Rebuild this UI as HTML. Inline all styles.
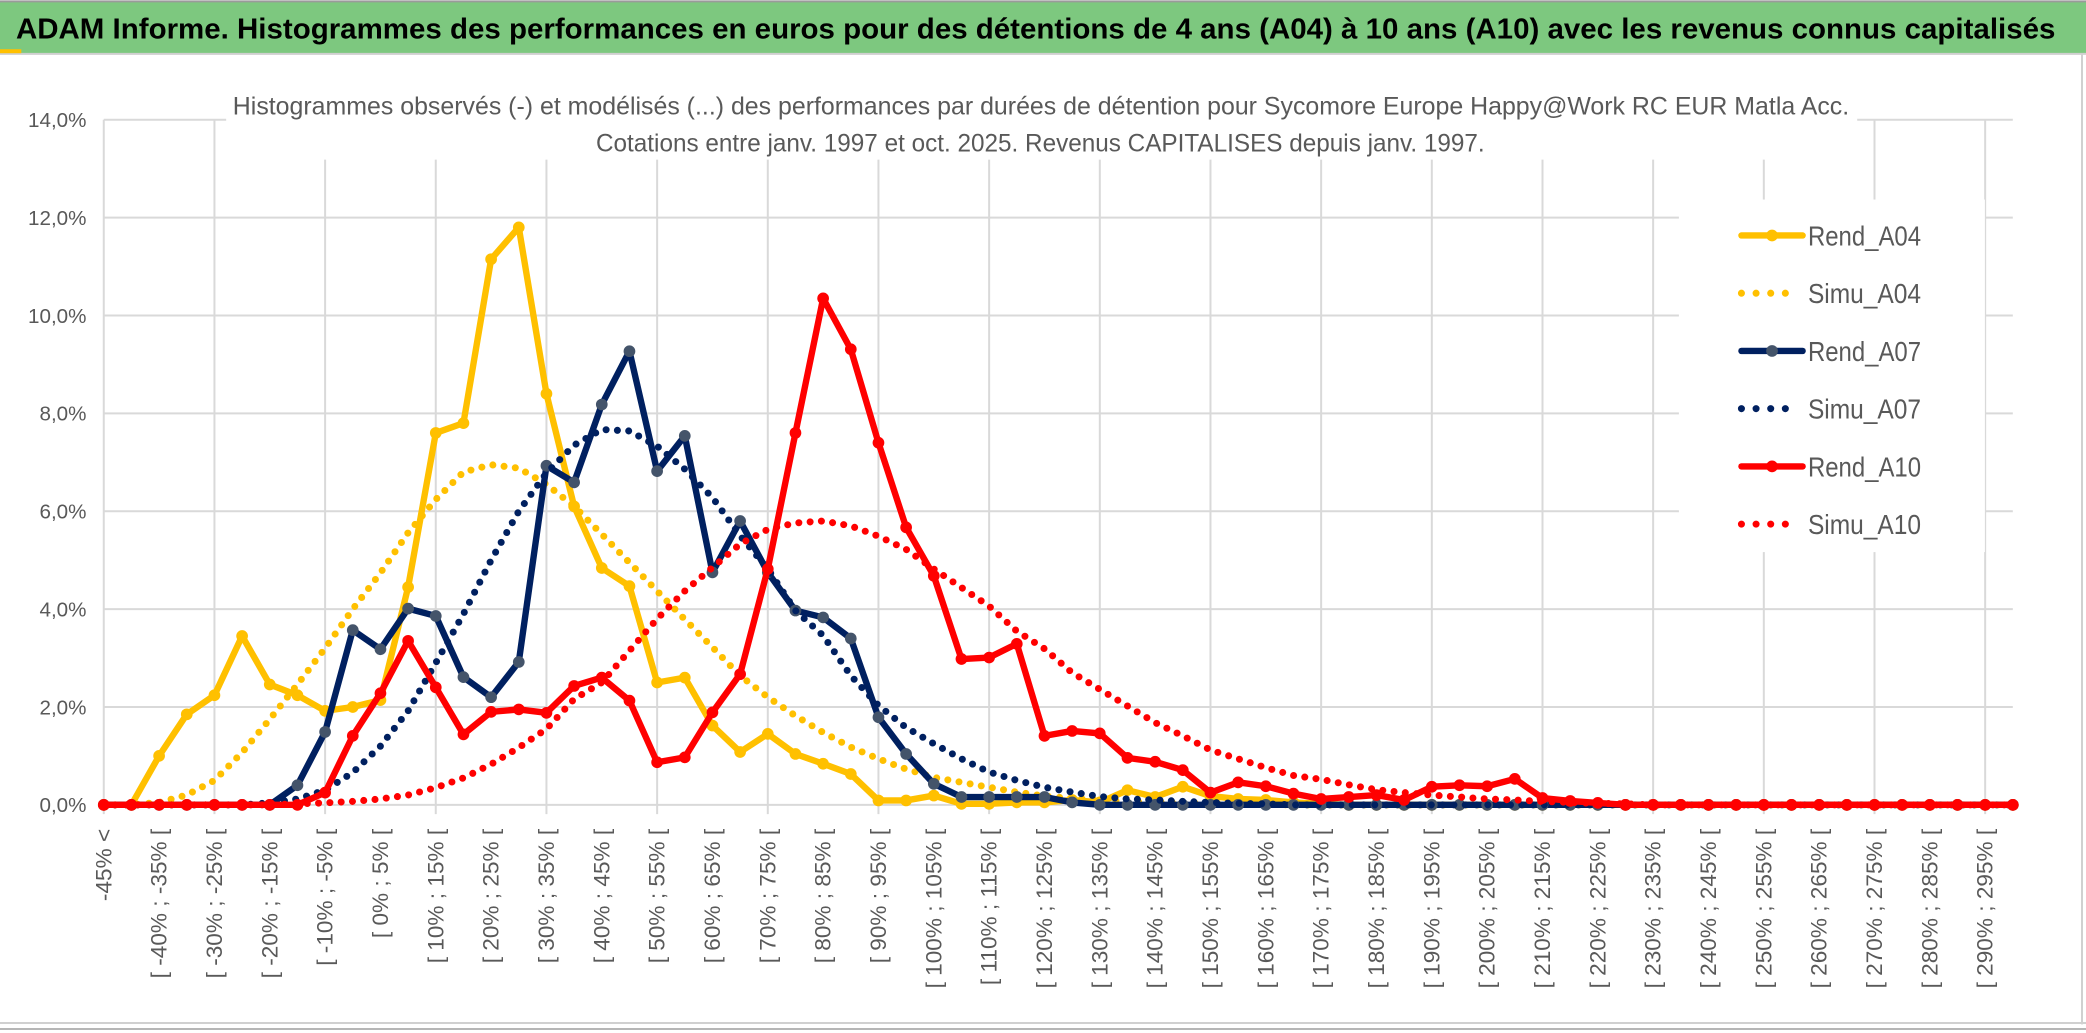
<!DOCTYPE html>
<html><head><meta charset="utf-8"><style>
html,body{margin:0;padding:0;background:#fff;}
svg{display:block;}
text{font-family:"Liberation Sans",sans-serif;}
</style></head><body>
<svg id="chart" xmlns="http://www.w3.org/2000/svg" width="2086" height="1033" viewBox="0 0 1568 776.5" preserveAspectRatio="none">
<rect x="0" y="0" width="1568" height="776.5" fill="#fff"/>
<rect x="0" y="1.5" width="1568" height="38.5" fill="#7dc87f"/>
<line x1="0" y1="1" x2="1568" y2="1" stroke="#9a9a9a" stroke-width="1.5"/>
<line x1="0" y1="40.5" x2="1568" y2="40.5" stroke="#cfcfcf" stroke-width="1.5"/>
<rect x="0" y="37" width="16" height="3" fill="#ffc000"/>
<text x="12" y="29" font-size="21.5" font-weight="bold" fill="#000" textLength="1533" lengthAdjust="spacingAndGlyphs">ADAM Informe. Histogrammes des performances en euros pour des détentions de 4 ans (A04) à 10 ans (A10) avec les revenus connus capitalisés</text>
<line x1="1565" y1="41" x2="1565" y2="770" stroke="#d0d0d0" stroke-width="1.5"/>
<line x1="0" y1="769" x2="1568" y2="769" stroke="#d0d0d0" stroke-width="1.5"/>
<line x1="0" y1="773.5" x2="1568" y2="773.5" stroke="#8a8a8a" stroke-width="1"/>
<g id="grid"></g>
<g id="yaxis"></g>
<g id="xaxis"></g>
<rect x="170" y="62" width="1226" height="58" fill="#fff"/>
<text x="175" y="86" font-size="19" fill="#595959" textLength="1215" lengthAdjust="spacingAndGlyphs">Histogrammes observés (-) et modélisés (...) des performances par durées de détention pour Sycomore Europe Happy@Work RC EUR Matla Acc.</text>
<text x="448" y="114" font-size="19" fill="#595959" textLength="668" lengthAdjust="spacingAndGlyphs">Cotations entre janv. 1997 et oct. 2025. Revenus CAPITALISES depuis janv. 1997.</text>
<g id="series"></g>
<g id="legend"></g>
</svg>
<script>
const categories = ["-45% <","[ -45% ; -40% [","[ -40% ; -35% [","[ -35% ; -30% [","[ -30% ; -25% [","[ -25% ; -20% [","[ -20% ; -15% [","[ -15% ; -10% [","[ -10% ; -5% [","[ -5% ; 0% [","[ 0% ; 5% [","[ 5% ; 10% [","[ 10% ; 15% [","[ 15% ; 20% [","[ 20% ; 25% [","[ 25% ; 30% [","[ 30% ; 35% [","[ 35% ; 40% [","[ 40% ; 45% [","[ 45% ; 50% [","[ 50% ; 55% [","[ 55% ; 60% [","[ 60% ; 65% [","[ 65% ; 70% [","[ 70% ; 75% [","[ 75% ; 80% [","[ 80% ; 85% [","[ 85% ; 90% [","[ 90% ; 95% [","[ 95% ; 100% [","[ 100% ; 105% [","[ 105% ; 110% [","[ 110% ; 115% [","[ 115% ; 120% [","[ 120% ; 125% [","[ 125% ; 130% [","[ 130% ; 135% [","[ 135% ; 140% [","[ 140% ; 145% [","[ 145% ; 150% [","[ 150% ; 155% [","[ 155% ; 160% [","[ 160% ; 165% [","[ 165% ; 170% [","[ 170% ; 175% [","[ 175% ; 180% [","[ 180% ; 185% [","[ 185% ; 190% [","[ 190% ; 195% [","[ 195% ; 200% [","[ 200% ; 205% [","[ 205% ; 210% [","[ 210% ; 215% [","[ 215% ; 220% [","[ 220% ; 225% [","[ 225% ; 230% [","[ 230% ; 235% [","[ 235% ; 240% [","[ 240% ; 245% [","[ 245% ; 250% [","[ 250% ; 255% [","[ 255% ; 260% [","[ 260% ; 265% [","[ 265% ; 270% [","[ 270% ; 275% [","[ 275% ; 280% [","[ 280% ; 285% [","[ 285% ; 290% [","[ 290% ; 295% [","[ 295% ; 300% ["];
const rendA04 = [0,0,1.0,1.85,2.24,3.45,2.46,2.24,1.92,2.0,2.14,4.45,7.6,7.8,11.15,11.8,8.4,6.1,4.84,4.47,2.5,2.6,1.62,1.08,1.45,1.04,0.84,0.63,0.09,0.09,0.19,0.02,0.02,0.05,0.05,0.1,0.05,0.3,0.16,0.37,0.18,0.12,0.1,0.05,0.02,0,0,0,0,0,0,0,0,0,0,0,0,0,0,0,0,0,0,0,0,0,0,0,0,0];
const simuA04 = [0,0,0.05,0.2,0.5,1.07,1.75,2.46,3.2,4.0,4.74,5.56,6.24,6.8,6.95,6.88,6.55,6.1,5.53,4.95,4.37,3.79,3.22,2.64,2.2,1.82,1.48,1.18,0.94,0.73,0.56,0.46,0.36,0.26,0.18,0.13,0.1,0.07,0.05,0.04,0.03,0.02,0.01,0,0,0,0,0,0,0,0,0,0,0,0,0,0,0,0,0,0,0,0,0,0,0,0,0,0,0];
const rendA07 = [0,0,0,0,0,0,0,0.4,1.49,3.57,3.18,4.01,3.86,2.61,2.2,2.92,6.93,6.59,8.18,9.27,6.82,7.54,4.75,5.8,4.75,3.97,3.83,3.4,1.79,1.04,0.43,0.16,0.16,0.16,0.16,0.05,0,0,0,0,0,0,0,0,0,0,0,0,0,0,0,0,0,0,0,0,0,0,0,0,0,0,0,0,0,0,0,0,0,0];
const simuA07 = [0,0,0,0,0,0,0.04,0.12,0.3,0.66,1.2,1.92,2.9,3.9,5.0,6.0,6.78,7.35,7.67,7.64,7.33,6.86,6.28,5.5,4.82,3.97,3.46,2.64,2.03,1.58,1.25,0.94,0.67,0.5,0.36,0.26,0.17,0.12,0.1,0.07,0.05,0.03,0.02,0,0,0,0,0,0,0,0,0,0,0,0,0,0,0,0,0,0,0,0,0,0,0,0,0,0,0];
const rendA10 = [0,0,0,0,0,0,0,0,0.25,1.41,2.28,3.35,2.4,1.44,1.9,1.95,1.88,2.43,2.6,2.13,0.87,0.97,1.89,2.67,4.82,7.6,10.35,9.31,7.4,5.67,4.68,2.98,3.01,3.29,1.41,1.51,1.46,0.96,0.88,0.71,0.25,0.46,0.38,0.23,0.12,0.16,0.2,0.1,0.37,0.4,0.38,0.53,0.14,0.08,0.04,0,0,0,0,0,0,0,0,0,0,0,0,0,0,0];
const simuA10 = [0,0,0,0,0,0,0,0.02,0.04,0.07,0.12,0.2,0.35,0.55,0.83,1.17,1.55,2.16,2.5,3.15,3.8,4.37,4.85,5.33,5.63,5.76,5.8,5.7,5.49,5.22,4.82,4.44,4.06,3.55,3.19,2.7,2.36,2.02,1.68,1.41,1.12,0.94,0.76,0.6,0.52,0.41,0.31,0.25,0.2,0.16,0.12,0.1,0.07,0.05,0.03,0.02,0,0,0,0,0,0,0,0,0,0,0,0,0,0];
const yTicks = [0,2,4,6,8,10,12,14];
const yTickLabels = ["0,0%","2,0%","4,0%","6,0%","8,0%","10,0%","12,0%","14,0%"];
const seriesNames = ["Rend_A04","Simu_A04","Rend_A07","Simu_A07","Rend_A10","Simu_A10"];

const NS = "http://www.w3.org/2000/svg";
const X0 = 78, X1 = 1513, Y0 = 605, Y1 = 90, YMAX = 14;
function xPos(i){ return X0 + i * (X1 - X0) / (categories.length - 1); }
function yPos(v){ return Y0 - v / YMAX * (Y0 - Y1); }
function mk(tag, attrs, parent){
  const e = document.createElementNS(NS, tag);
  for (const k in attrs) e.setAttribute(k, attrs[k]);
  parent.appendChild(e);
  return e;
}
const grid = document.getElementById('grid');
const yaxis = document.getElementById('yaxis');
const xaxis = document.getElementById('xaxis');
const seriesG = document.getElementById('series');
const legend = document.getElementById('legend');

yTicks.forEach((t, k) => {
  const gl = mk('line', {x1: X0, x2: X1, y1: yPos(t), y2: yPos(t), stroke: '#d9d9d9', 'stroke-width': 1.5}, grid);
  
  
  const tl = mk('text', {x: 65, y: yPos(t) + 5.5, 'font-size': 15.5, fill: '#595959', 'text-anchor': 'end'}, yaxis);
  tl.textContent = yTickLabels[k];
  
  
});
categories.forEach((c, i) => {
  if (i % 4 === 0) {
    const vl = mk('line', {x1: xPos(i), x2: xPos(i), y1: Y1, y2: Y0 + 7, stroke: '#d9d9d9', 'stroke-width': 1.5}, grid);
    
    
  }
  if (i % 2 === 0) {
    const x = xPos(i), y = 623;
    const lab = mk('text', {x: x, y: y, 'font-size': 17, fill: '#595959', 'text-anchor': 'end', 'dominant-baseline': 'central', transform: 'rotate(-90 ' + x + ' ' + y + ')'}, xaxis);
    lab.textContent = c;
    
    
  }
});

const specs = [
  {data: rendA04, color: '#ffc000', solid: true, marker: '#ffc000', name: 'series-rend-a04'},
  {data: simuA04, color: '#ffc000', solid: false, name: 'series-simu-a04'},
  {data: rendA07, color: '#002060', solid: true, marker: '#44546a', name: 'series-rend-a07'},
  {data: simuA07, color: '#002060', solid: false, name: 'series-simu-a07'},
  {data: rendA10, color: '#ff0000', solid: true, marker: '#ff0000', name: 'series-rend-a10'},
  {data: simuA10, color: '#ff0000', solid: false, name: 'series-simu-a10'}
];
specs.forEach(s => {
  const g = mk('g', {}, seriesG);
  
  
  const pts = s.data.map((v, i) => xPos(i).toFixed(2) + ',' + yPos(v).toFixed(2)).join(' ');
  const attrs = {points: pts, fill: 'none', stroke: s.color, 'stroke-linejoin': 'round', 'stroke-linecap': 'round'};
  if (s.solid) { attrs['stroke-width'] = 4.8; }
  else { attrs['stroke-width'] = 5.3; attrs['stroke-dasharray'] = '0 8.5'; }
  const pl = mk('polyline', attrs, g);
  
  
  if (s.solid) {
    s.data.forEach((v, i) => {
      const m = mk('circle', {cx: xPos(i), cy: yPos(v), r: 4.4, fill: s.marker}, g);
      
      
    });
  }
});

const lb = mk('rect', {x: 1262, y: 150, width: 230, height: 265, fill: '#fff'}, legend);


specs.forEach((s, k) => {
  const y = 177 + k * 43.4;
  const g = mk('g', {}, legend);
  
  
  if (s.solid) {
    mk('line', {x1: 1309, x2: 1355, y1: y, y2: y, stroke: s.color, 'stroke-width': 4.8, 'stroke-linecap': 'round'}, g);
    mk('circle', {cx: 1332, cy: y, r: 4.4, fill: s.marker}, g);
  } else {
    mk('line', {x1: 1309, x2: 1352, y1: y, y2: y, stroke: s.color, 'stroke-width': 5.3, 'stroke-linecap': 'round', 'stroke-dasharray': '0 11'}, g);
  }
  const t = mk('text', {x: 1359, y: y + 7.5, 'font-size': 21, fill: '#595959', textLength: 85, lengthAdjust: 'spacingAndGlyphs'}, g);
  t.textContent = seriesNames[k];
  
  
});
</script>
</body></html>
